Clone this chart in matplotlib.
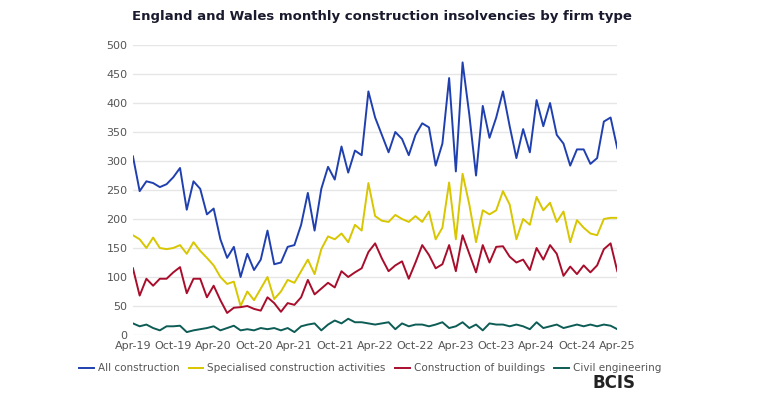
import matplotlib
matplotlib.use('Agg')
import matplotlib.pyplot as plt
import numpy as np

# monthly values, Apr-19 .. Apr-25
all_construction = [308,248,265,262,255,260,272,288,216,265, 252,208,218,165,133,152,100,140,112,130,
                    180,122,125,152,155,190,245,180,252,290, 268,325,280,318,310,420,375,345,315,350,
                    338,310,345,365,358,292,330,443,282,470, 380,275,395,340,375,420,360,305,355,315,
                    405,360,400,345,330,292,320,320,295,305, 368,375,322]
specialised = [172,165,150,168,150,148,150,155,140,160, 145,133,120,100,88,92,50,75,60,80,
               100,62,75,95,90,110,130,105,148,170, 165,175,160,190,180,262,205,197,195,207,
               200,195,205,195,213,165,185,263,165,278, 225,160,215,208,215,248,225,165,200,190,
               238,215,228,195,213,160,198,185,175,172, 200,202,202]
buildings = [115,68,97,85,97,97,108,117,72,97, 97,65,85,60,38,47,48,50,45,42,
             65,55,40,55,52,65,95,70,80,90, 82,110,100,108,115,143,158,132,110,120,
             127,97,125,155,138,115,122,155,110,172, 140,108,155,125,152,153,135,125,130,112,
             150,130,155,140,102,118,105,120,108,120, 148,158,110]
civil = [20,15,18,12,8,15,15,16,5,8, 10,12,15,8,12,16,8,10,8,12,
         10,12,8,12,5,15,18,20,8,18, 25,20,28,22,22,20,18,20,22,10,
         20,15,18,18,15,18,22,12,15,22, 12,18,8,20,18,18,15,18,15,10,
         22,12,15,18,12,15,18,15,18,15, 18,16,10]
tick_labels = ['Apr-19','Oct-19','Apr-20','Oct-20','Apr-21','Oct-21','Apr-22','Oct-22',
               'Apr-23','Oct-23','Apr-24','Oct-24','Apr-25']

x = np.arange(len(all_construction))
fig = plt.figure(figsize=(7.64, 4.0), dpi=100)
ax = fig.add_axes([0.174, 0.1625, 0.634, 0.725])

ax.plot(x, all_construction, color='#2040b0', lw=1.4, label='All construction')
ax.plot(x, specialised, color='#d8c600', lw=1.4, label='Specialised construction activities')
ax.plot(x, buildings, color='#a80d2c', lw=1.4, label='Construction of buildings')
ax.plot(x, civil, color='#0d5c55', lw=1.4, label='Civil engineering')

ax.set_xlim(0, len(x) - 1)
ax.set_ylim(0, 500)
ax.set_yticks(range(0, 501, 50))
ax.set_xticks(range(0, len(x), 6))
ax.set_xticklabels(tick_labels)
ax.grid(axis='y', color='#e6e6e6', lw=1)
ax.set_axisbelow(True)
for s in ax.spines.values():
    s.set_visible(False)
ax.tick_params(length=0, labelsize=8, colors='#555555', pad=4)

fig.suptitle('England and Wales monthly construction insolvencies by firm type',
             x=0.5, y=0.975, fontsize=9.5, fontweight='bold', color='#1a1a2e')
ax.legend(loc='upper center', bbox_to_anchor=(0.49, -0.065), ncol=4, frameon=False,
          fontsize=7.5, handlelength=1.4, handletextpad=0.4, columnspacing=0.9,
          labelcolor='#555555')
fig.text(0.775, 0.03, 'BCIS', fontsize=12, fontweight='bold', color='#222222')

fig.savefig('out.png')
